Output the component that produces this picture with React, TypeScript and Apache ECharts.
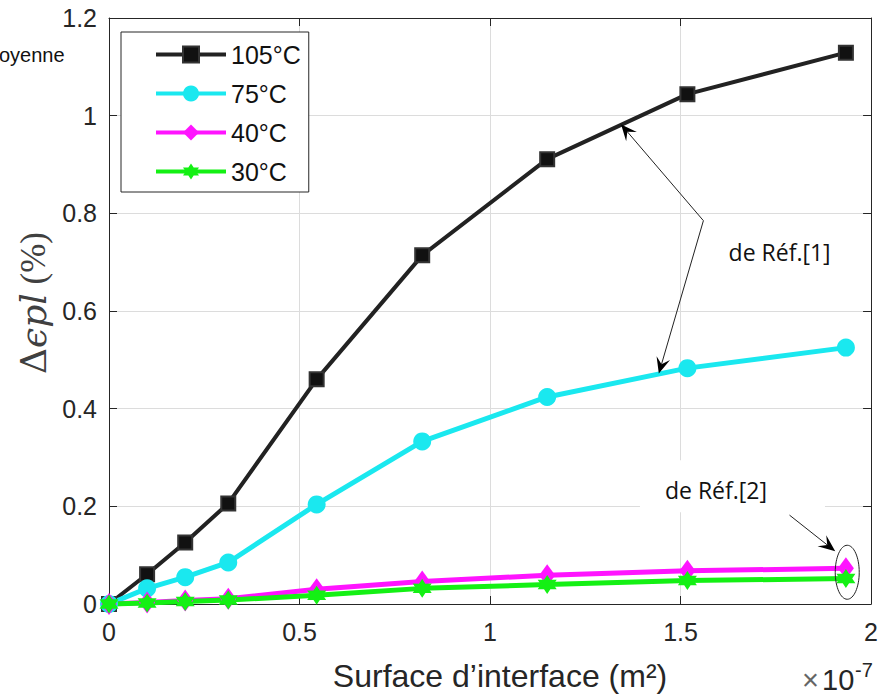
import React, { useEffect, useRef } from "react";
import * as echarts from "echarts";

// ---- data (x in units of 1e-7 m²) ----
const xValues = [0, 0.1, 0.2, 0.313, 0.545, 0.822, 1.15, 1.518, 1.934];
const s105 = [0, 0.061, 0.126, 0.206, 0.46, 0.714, 0.911, 1.044, 1.129];
const s75 = [0, 0.032, 0.055, 0.085, 0.204, 0.333, 0.424, 0.483, 0.525];
const s40 = [0, 0.003, 0.007, 0.011, 0.03, 0.046, 0.059, 0.068, 0.073];
const s30 = [0, 0.002, 0.005, 0.008, 0.018, 0.032, 0.04, 0.048, 0.052];
const seriesNames = ["105°C", "75°C", "40°C", "30°C"];

const xAxisRange = { min: 0, max: 2, interval: 0.5 };
const yAxisRange = { min: 0, max: 1.2, interval: 0.2 };

// annotation anchors in data coordinates
const ref1Vertex = [1.56, 0.785];
const ref1TipA = [1.344, 0.982];
const ref1TipB = [1.443, 0.472];
const ref1Label = [1.76, 0.72];
const ref2Start = [1.786, 0.182];
const ref2Tip = [1.906, 0.108];
const ref2Ellipse = [1.9375, 0.065];
const ref2Label = [1.593, 0.233];

const AXIS_COLOR = "#262626";
const SANS = "Liberation Sans, Arial, sans-serif";

function hexagramPath(): string {
  const pts: string[] = [];
  for (let i = 0; i < 12; i++) {
    const a = -Math.PI / 2 + (i * Math.PI) / 6;
    const r = i % 2 === 0 ? 10 : 5.77;
    pts.push(`${(10 + r * Math.cos(a)).toFixed(3)},${(10 + r * Math.sin(a)).toFixed(3)}`);
  }
  return "path://M" + pts.join("L") + "Z";
}

function arrow(from: number[], to: number[], len = 16, half = 7): any[] {
  const dx = to[0] - from[0];
  const dy = to[1] - from[1];
  const d = Math.hypot(dx, dy) || 1;
  const ux = dx / d, uy = dy / d;
  const nx = -uy, ny = ux;
  const bx = to[0] - ux * len, by = to[1] - uy * len;
  const notch = [to[0] - ux * len * 0.6, to[1] - uy * len * 0.6];
  return [
    {
      type: "line",
      z: 10,
      shape: { x1: from[0], y1: from[1], x2: notch[0], y2: notch[1] },
      style: { stroke: "#222", lineWidth: 1 },
    },
    {
      type: "polygon",
      z: 10,
      shape: {
        points: [
          [to[0], to[1]],
          [bx + nx * half, by + ny * half],
          notch,
          [bx - nx * half, by - ny * half],
        ],
      },
      style: { fill: "#000" },
    },
  ];
}

export default function App() {
  const ref = useRef<HTMLDivElement>(null);

  useEffect(() => {
    if (!ref.current) return;
    const chart = echarts.init(ref.current, undefined, { renderer: "svg" });
    const pairs = (ys: number[]) => xValues.map((x, i) => [x, ys[i]]);

    const axisCommon = {
      type: "value" as const,
      axisLine: { show: true, onZero: false, lineStyle: { color: AXIS_COLOR, width: 1 } },
      axisTick: { show: true, inside: true, length: 8, lineStyle: { color: AXIS_COLOR } },
    };

    chart.setOption({
      animation: false,
      backgroundColor: "#ffffff",
      grid: { left: 109, right: 4, top: 18, bottom: 96, containLabel: false },
      legend: {
        orient: "vertical",
        left: 121,
        top: 32,
        itemWidth: 70,
        itemHeight: 20,
        itemGap: 14,
        padding: [10, 8, 8, 33],
        borderColor: AXIS_COLOR,
        borderWidth: 1,
        backgroundColor: "#ffffff",
        lineStyle: { width: 4 },
        textStyle: { fontSize: 25, color: "#111", fontFamily: SANS },
        data: seriesNames,
      },
      xAxis: [
        {
          ...axisCommon,
          position: "bottom",
          ...xAxisRange,
          splitLine: { show: true, lineStyle: { color: "#dcdcdc", width: 1 } },
          axisLabel: { fontSize: 25, color: AXIS_COLOR, fontFamily: SANS, margin: 15 },
          name: "Surface d’interface (m²)",
          nameLocation: "middle",
          nameGap: 56,
          nameTextStyle: { fontSize: 32, color: AXIS_COLOR, fontFamily: SANS, padding: [0, 0, 0, 20] },
        },
        {
          ...axisCommon,
          position: "top",
          ...xAxisRange,
          splitLine: { show: false },
          axisLabel: { show: false },
        },
      ],
      yAxis: [
        {
          ...axisCommon,
          position: "left",
          ...yAxisRange,
          splitLine: { show: true, lineStyle: { color: "#dcdcdc", width: 1 } },
          axisLabel: { fontSize: 25, color: AXIS_COLOR, fontFamily: SANS, margin: 12 },
          name: "{d|Δ}{e|ϵpl}{p| (%)}",
          nameLocation: "middle",
          nameRotate: 90,
          nameGap: 52,
          nameTextStyle: {
            color: "#404040",
            padding: [0, 0, 0, 16],
            rich: {
              d: { fontSize: 36, fontFamily: "DejaVu Serif, serif", color: "#404040" },
              e: { fontSize: 36, fontFamily: "DejaVu Serif, serif", fontStyle: "italic", color: "#404040" },
              p: { fontSize: 35, fontFamily: "Liberation Serif, serif", color: "#404040" },
            },
          },
        },
        {
          ...axisCommon,
          position: "right",
          ...yAxisRange,
          splitLine: { show: false },
          axisLabel: { show: false },
        },
      ],
      series: [
        {
          name: seriesNames[0],
          type: "line",
          data: pairs(s105),
          clip: false,
          symbol: "rect",
          symbolSize: 14,
          lineStyle: { color: "#222222", width: 4 },
          itemStyle: { color: "#111111", borderColor: "#333333", borderWidth: 2 },
        },
        {
          name: seriesNames[1],
          type: "line",
          data: pairs(s75),
          clip: false,
          symbol: "circle",
          symbolSize: 18,
          lineStyle: { color: "#1ae8ef", width: 5 },
          itemStyle: { color: "#1ae8ef" },
        },
        {
          name: seriesNames[2],
          type: "line",
          data: pairs(s40),
          clip: false,
          symbol: "diamond",
          symbolSize: [16, 22],
          lineStyle: { color: "#ff14ff", width: 5 },
          itemStyle: { color: "#ff14ff" },
        },
        {
          name: seriesNames[3],
          type: "line",
          data: pairs(s30),
          clip: false,
          symbol: hexagramPath(),
          symbolSize: 19,
          lineStyle: { color: "#14f014", width: 5 },
          itemStyle: { color: "#14f014" },
        },
      ],
    });

    const px = (p: number[]) => chart.convertToPixel({ gridIndex: 0 }, p) as number[];
    const v1 = px(ref1Vertex);
    const a1 = px(ref1TipA);
    const b1 = px(ref1TipB);
    const l1 = px(ref1Label);
    const s2 = px(ref2Start);
    const t2 = px(ref2Tip);
    const e2 = px(ref2Ellipse);
    const l2 = px(ref2Label);

    chart.setOption({
      graphic: [
        {
          type: "text",
          z: 10,
          left: -1,
          top: 45,
          style: { text: "oyenne", fontSize: 20, fontFamily: SANS, fill: "#111" },
        },
        {
          type: "rect",
          z: 5,
          shape: { x: l2[0] - 76, y: l2[1] - 30, width: 185, height: 52 },
          style: { fill: "#ffffff" },
        },
        {
          type: "text",
          z: 10,
          x: l2[0],
          y: l2[1],
          style: {
            text: "de Réf.[2]",
            fontSize: 23,
            fontFamily: "Open Sans, sans-serif",
            fill: "#111",
            align: "center",
            verticalAlign: "middle",
          },
        },
        {
          type: "text",
          z: 10,
          x: l1[0],
          y: l1[1],
          style: {
            text: "de Réf.[1]",
            fontSize: 23,
            fontFamily: "Open Sans, sans-serif",
            fill: "#111",
            align: "center",
            verticalAlign: "middle",
          },
        },
        ...arrow(v1, a1, 16, 7),
        ...arrow(v1, b1, 16, 7),
        ...arrow(s2, t2, 17, 7),
        {
          type: "ellipse",
          z: 10,
          shape: { cx: e2[0], cy: e2[1], rx: 12, ry: 27 },
          style: { fill: "none", stroke: "#222", lineWidth: 1 },
        },
        {
          type: "text",
          z: 10,
          x: 802,
          y: 665,
          style: { text: "×", fontSize: 29, fontFamily: SANS, fill: "#666", verticalAlign: "top" },
        },
        {
          type: "text",
          z: 10,
          x: 822,
          y: 665,
          style: { text: "10", fontSize: 29, fontFamily: SANS, fill: AXIS_COLOR, verticalAlign: "top" },
        },
        {
          type: "text",
          z: 10,
          x: 855,
          y: 660,
          style: { text: "-7", fontSize: 20, fontFamily: SANS, fill: AXIS_COLOR, verticalAlign: "top" },
        },
      ],
    });

    return () => chart.dispose();
  }, []);

  return (
    <div
      ref={ref}
      style={{ position: "fixed", left: 0, top: 0, width: 881, height: 700, background: "#fff" }}
    />
  );
}
